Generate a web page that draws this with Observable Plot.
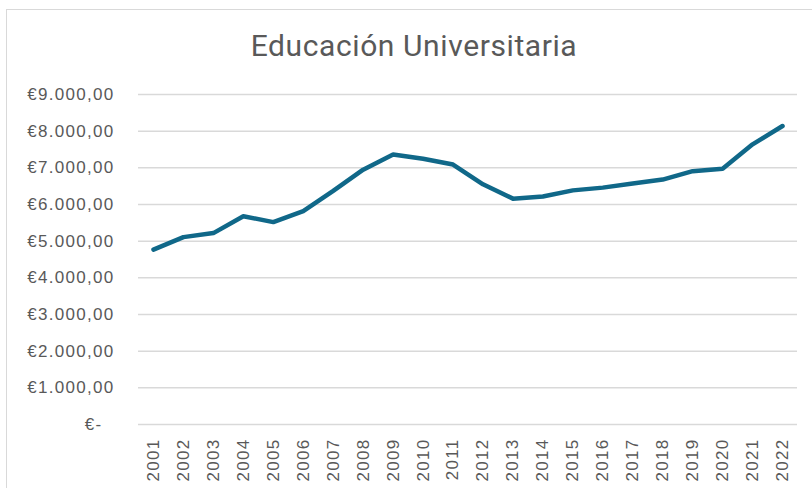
<!DOCTYPE html>
<html>
<head>
<meta charset="utf-8">
<script src="https://cdn.jsdelivr.net/npm/d3@7"></script>
<script src="https://cdn.jsdelivr.net/npm/@observablehq/plot@0.6"></script>
<style>
  html, body { margin: 0; padding: 0; background: #fff; }
  #wrap { position: relative; width: 812px; height: 488px; overflow: hidden; background: #fff; }
  #frame { position: absolute; left: 6px; top: 9px; width: 900px; height: 600px; border: 1.5px solid #d9d9d9; box-sizing: border-box; }
  #title { position: absolute; left: 0; width: 828px; top: 28px; text-align: center; font-family: Roboto, "Open Sans", sans-serif; font-size: 30px; letter-spacing: 0.6px; color: #595959; line-height: 1.2; }
  #chart { position: absolute; left: 0; top: 0; }
</style>
</head>
<body>
<div id="wrap">
  <div id="frame"></div>
  <div id="chart"></div>
  <div id="title">Educación Universitaria</div>
</div>
<script>
const years = ["2001","2002","2003","2004","2005","2006","2007","2008","2009","2010","2011","2012","2013","2014","2015","2016","2017","2018","2019","2020","2021","2022"];
const values = [4770, 5110, 5220, 5680, 5520, 5820, 6370, 6950, 7365, 7250, 7090, 6550, 6160, 6220, 6385, 6460, 6570, 6680, 6910, 6975, 7640, 8140];
const yTicks = [0, 1000, 2000, 3000, 4000, 5000, 6000, 7000, 8000, 9000];

const data = years.map((y, i) => ({year: y, value: values[i]}));
const loc = d3.formatLocale({decimal: ",", thousands: ".", grouping: [3], currency: ["€", ""]});
const f = loc.format("$,.2f");
const fmt = v => v === 0 ? "€-\u00a0\u00a0" : f(v);

const chart = Plot.plot({
  width: 812,
  height: 488,
  marginLeft: 138,
  marginRight: 15,
  marginTop: 94,
  marginBottom: 64,
  style: {fontFamily: "'Liberation Sans', Arial, sans-serif", fontSize: "17px", color: "#595959", background: "transparent", letterSpacing: "1.3px"},
  x: {type: "point", domain: years, padding: 0.5, round: false, label: null},
  y: {domain: [0, 9000], label: null},
  marks: [
    Plot.gridY(yTicks, {stroke: "#d9d9d9", strokeOpacity: 1, strokeWidth: 1.5}),
    Plot.axisY(yTicks, {tickSize: 0, tickPadding: 24, tickFormat: fmt, label: null}),
    Plot.axisX({tickSize: 0, tickRotate: -90, tickPadding: 14, label: null}),
    Plot.lineY(data, {x: "year", y: "value", stroke: "#106889", strokeWidth: 4.5, strokeLinejoin: "round", strokeLinecap: "round"})
  ]
});
document.getElementById("chart").appendChild(chart);
</script>
</body>
</html>
